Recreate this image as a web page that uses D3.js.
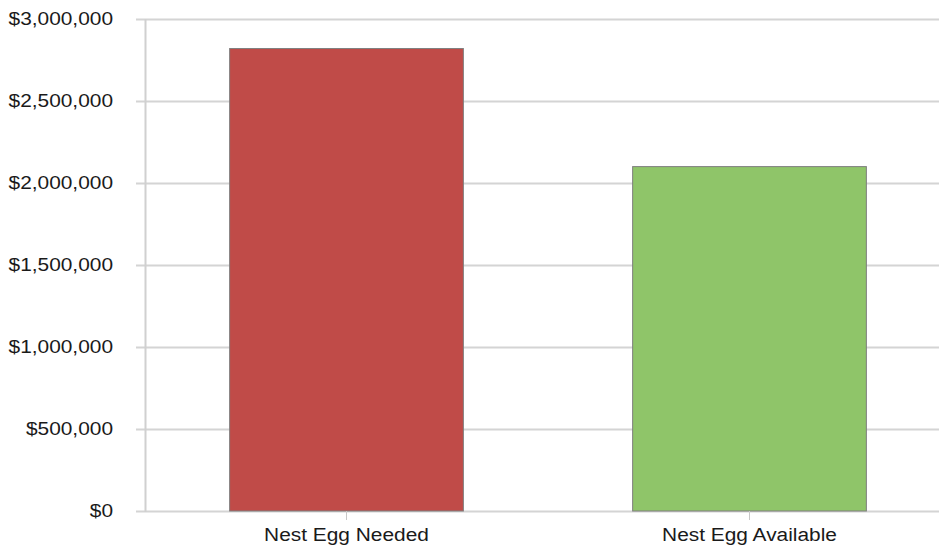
<!DOCTYPE html>
<html><head><meta charset="utf-8">
<script src="https://cdn.jsdelivr.net/npm/d3@7"></script>
<style>
body{margin:0;background:#fff;}
text{font-family:"Liberation Sans",Arial,sans-serif;fill:#1a1a1a;}
</style></head>
<body><svg id="c" width="939" height="546"></svg>
<script>
const categories = ["Nest Egg Needed", "Nest Egg Available"];
const values = [2820000, 2100000];
const colors = ["#C04B48", "#8FC569"];
const yTicks = [0, 500000, 1000000, 1500000, 2000000, 2500000, 3000000];

(function () {
const svg = d3.select("#c");
const mLeft = 145, mRight = 951, mTop = 19, mBottom = 511;
const sx = 1.16;

const y = d3.scaleLinear().domain([0, 3000000]).range([mBottom, mTop]);
const x = d3.scaleBand().domain(categories).range([mLeft, mRight]).paddingInner(0.42).paddingOuter(0.21);
const fmt = v => "$" + d3.format(",")(v);

// gridlines
svg.append("g").selectAll("line").data(yTicks).join("line")
  .attr("x1", mLeft - 9).attr("x2", 939)
  .attr("y1", d => Math.round(y(d)) + 0.5).attr("y2", d => Math.round(y(d)) + 0.5)
  .attr("stroke", "#d4d4d4").attr("stroke-width", 2);

// y axis line
svg.append("line").attr("x1", mLeft + 0.5).attr("x2", mLeft + 0.5).attr("y1", mTop).attr("y2", mBottom + 1)
  .attr("stroke", "#d0d0d0").attr("stroke-width", 2);

// y labels
svg.append("g").selectAll("text").data(yTicks).join("text")
  .attr("transform", d => `translate(${mLeft - 32},${y(d)}) scale(${sx},1)`)
  .attr("dy", "0.35em")
  .attr("text-anchor", "end").style("font-size", "18px")
  .text(fmt);

// bars
svg.append("g").selectAll("rect").data(values).join("rect")
  .attr("x", (d, i) => x(categories[i])).attr("width", x.bandwidth())
  .attr("y", d => y(d)).attr("height", d => mBottom - y(d))
  .attr("fill", (d, i) => colors[i]).attr("stroke", "#7f7f7f").attr("stroke-width", 1);

// x axis ticks
const xa = d3.axisBottom(x).tickSize(9).tickSizeOuter(0).tickPadding(8);
const g = svg.append("g").attr("transform", `translate(0,${mBottom})`).call(xa);
g.select(".domain").remove();
g.selectAll(".tick line").attr("stroke", "#c8c8c8");
g.selectAll(".tick text").style("font-size", "18px")
  .style("font-family", "Liberation Sans, Arial, sans-serif").attr("fill", "#1a1a1a")
  .attr("dy", "0.72em").attr("y", 0).attr("transform", `translate(0,17) scale(${sx},1)`);
})();
</script></body></html>
